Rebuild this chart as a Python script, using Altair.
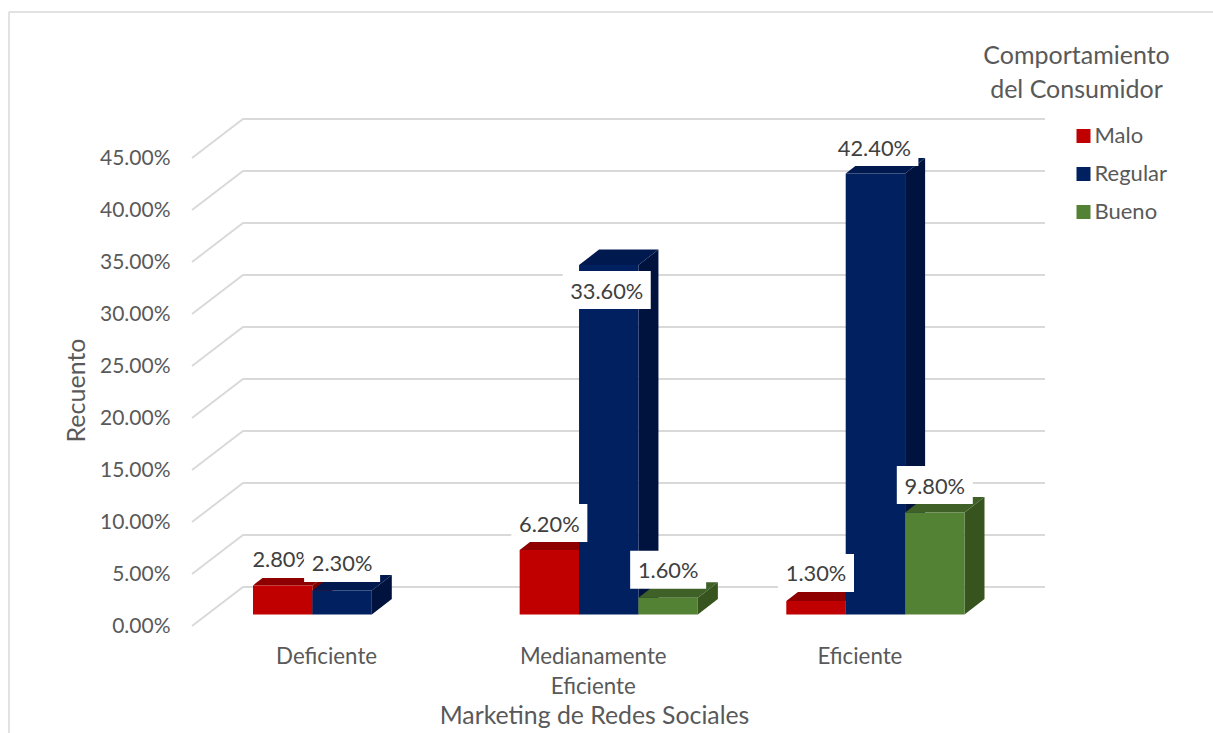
import json
import altair as alt
import pandas as pd

# Chart values
categories = ["Deficiente", "Medianamente Eficiente", "Eficiente"]
series_names = ["Malo", "Regular", "Bueno"]
malo = [0.028, 0.062, 0.013]
regular = [0.023, 0.336, 0.424]
bueno = [None, 0.016, 0.098]
tick_values = [0, 0.05, 0.10, 0.15, 0.20, 0.25, 0.30, 0.35, 0.40, 0.45]

# Canvas and scale set-up: x runs in category units, y in shares
W, H = 1213, 733
PX_X = 266.65          # pixels per category step
PX_Y = 1040.0          # pixels per 1.00 of share
X0_PX = 342.1          # centre of the first category's front faces
Y0_PX = 614.5          # floor line of the front faces
x_dom = [-X0_PX / PX_X, (W - X0_PX) / PX_X]
y_dom = [-(H - Y0_PX) / PX_Y, Y0_PX / PX_Y]

BAR_W = 59.4 / PX_X
DEPTH_X = 20.0 / PX_X
DEPTH_Y = 15.5 / PX_Y

front_colors = ["#C00000", "#002060", "#548235"]
top_colors = ["#8E0000", "#001A50", "#3F6128"]
side_colors = ["#7A0000", "#00133E", "#37541F"]

# Label box sizes and their placement relative to each bar's top edge (pixels)
BOX_H = 38
TEXT_DROP = 1.5
label_boxes = {
    ("Malo", 0): (76, 0, -26.4),
    ("Malo", 1): (76, 0, -27),
    ("Malo", 2): (76, 0, -28),
    ("Regular", 0): (76, 0, -27.6),
    ("Regular", 1): (88, -2, 25),
    ("Regular", 2): (88, -1, -26.5),
    ("Bueno", 1): (76, 0, -28),
    ("Bueno", 2): (76, 0, -27.5),
}

x_scale = alt.Scale(domain=x_dom, range=[0, W], nice=False, zero=False)
y_scale = alt.Scale(domain=y_dom, range=[H, 0], nice=False, zero=False)
color_scale = alt.Scale(domain=series_names, range=front_colors)

# Wall gridlines: a short slanted run from the front edge, then along the back wall
WALL_LEFT = (243 - X0_PX) / PX_X
WALL_RIGHT = (1045 - X0_PX) / PX_X
FRONT_LEFT = (192 - X0_PX) / PX_X
WALL_RISE = 27.5 / PX_Y
FRONT_DROP = -11.5 / PX_Y
grid_rows = []
for t in tick_values:
    grid_rows += [
        {"tick": t, "x": FRONT_LEFT, "y": t + FRONT_DROP},
        {"tick": t, "x": WALL_LEFT, "y": t + WALL_RISE},
        {"tick": t, "x": WALL_RIGHT, "y": t + WALL_RISE},
    ]

x_label_expr = (
    "datum.value == 1 ? "
    + json.dumps(categories[1].split(" "))
    + " : (datum.value == 0 ? "
    + json.dumps(categories[0])
    + " : "
    + json.dumps(categories[2])
    + ")"
)
x_axis = alt.Axis(
    values=[0, 1, 2], labelExpr=x_label_expr, labelOffset=-16, offset=-88,
    domain=False, ticks=False, grid=False, labelPadding=0, labelFontSize=22.3,
    labelColor="#595959", labelFont="Lato", labelLineHeight=30.5, labelOverlap=False,
    labelFlush=False, labelBaseline="top", title="Marketing de Redes Sociales",
    titleFont="Lato", titleFontSize=24.8, titleColor="#595959", titleFontWeight="normal",
    titleX=594, titleY=71, titleAnchor="middle", titleBaseline="middle",
)
y_axis = alt.Axis(
    values=tick_values, format=".2%", offset=-170, domain=False, ticks=False,
    grid=False, labelPadding=0, labelOffset=12, labelFontSize=21, labelColor="#595959",
    labelFont="Lato", labelOverlap=False, labelFlush=False, title="Recuento",
    titleFont="Lato", titleFontSize=25, titleColor="#595959", titleFontWeight="normal",
    titleX=-94, titleY=390, titleAngle=270, titleAlign="center", titleBaseline="middle",
)


def X(field="x"):
    return alt.X(f"{field}:Q", scale=x_scale, axis=x_axis, title="Marketing de Redes Sociales")


def Y(field="y"):
    return alt.Y(f"{field}:Q", scale=y_scale, axis=y_axis, stack=None, title="Recuento")


layers = [
    alt.Chart(pd.DataFrame(grid_rows))
    .mark_line(color="#D9D9D9", strokeWidth=1.9)
    .encode(x=X(), y=Y(), detail="tick:N", order="x:Q")
]

legend = alt.Legend(
    orient="none", legendX=983.5, legendY=44,
    title=["Comportamiento", "del Consumidor"],
    titleFont="Lato", titleFontSize=25, titleColor="#595959", titleFontWeight="normal",
    titleAlign="center", titleLineHeight=34, titlePadding=22, titleLimit=400,
    labelFont="Lato", labelFontSize=22, labelColor="#595959", labelOffset=0,
    symbolType="square", symbolSize=196, symbolStrokeWidth=0, symbolOffset=-4,
    rowPadding=16, padding=0,
)

all_values = [malo, regular, bueno]
for s, name in enumerate(series_names):
    fronts, tops, sides = [], [], []
    offset = (s - 1) * BAR_W
    for c, v in enumerate(all_values[s]):
        if v is None:
            continue
        x0 = c + offset - BAR_W / 2
        x1 = x0 + BAR_W
        fronts.append({"series": name, "cat": c, "x": x0, "x2": x1, "y": v, "y2": 0})
        tops += [
            {"cat": c, "x": x0, "y": v, "y2": v},
            {"cat": c, "x": x0 + DEPTH_X, "y": v + DEPTH_Y, "y2": v},
            {"cat": c, "x": x1, "y": v + DEPTH_Y, "y2": v},
            {"cat": c, "x": x1 + DEPTH_X, "y": v + DEPTH_Y, "y2": v + DEPTH_Y},
        ]
        sides += [
            {"cat": c, "x": x1, "y": v, "y2": 0},
            {"cat": c, "x": x1 + DEPTH_X, "y": v + DEPTH_Y, "y2": DEPTH_Y},
        ]
    layers.append(
        alt.Chart(pd.DataFrame(sides))
        .mark_area(color=side_colors[s], orient="vertical")
        .encode(x=X(), y=Y(), y2="y2:Q", detail="cat:N")
    )
    layers.append(
        alt.Chart(pd.DataFrame(tops))
        .mark_area(color=top_colors[s], orient="vertical")
        .encode(x=X(), y=Y(), y2="y2:Q", detail="cat:N")
    )
    layers.append(
        alt.Chart(pd.DataFrame(fronts))
        .mark_rect()
        .encode(
            x=X(), x2="x2:Q", y=Y(), y2="y2:Q",
            color=alt.Color("series:N", scale=color_scale, legend=legend),
        )
    )

# Value labels sit above the bars, each on its own white box
for s, name in enumerate(series_names):
    rows = []
    offset = (s - 1) * BAR_W
    for c, v in enumerate(all_values[s]):
        if v is None:
            continue
        bw, dx, dy = label_boxes[(name, c)]
        cx = c + offset + dx / PX_X
        cy = v - dy / PX_Y
        rows.append({
            "value": v, "cx": cx, "cy": cy - TEXT_DROP / PX_Y,
            "x": cx - bw / 2 / PX_X, "x2": cx + bw / 2 / PX_X,
            "y": cy + BOX_H / 2 / PX_Y, "y2": cy - BOX_H / 2 / PX_Y,
        })
    frame = pd.DataFrame(rows)
    layers.append(
        alt.Chart(frame).mark_rect(color="white")
        .encode(x=X(), x2="x2:Q", y=Y(), y2="y2:Q")
    )
    layers.append(
        alt.Chart(frame)
        .mark_text(font="Lato", fontSize=21.8, color="#404040", baseline="middle", align="center")
        .encode(x=X("cx"), y=Y("cy"), text=alt.Text("value:Q", format=".2%"))
    )

# Chart frame along the top and left edges
layers.append(
    alt.Chart(pd.DataFrame({"k": [0]})).mark_rule(color="#D9D9D9", strokeWidth=1.5)
    .encode(x=alt.value(9), y=alt.value(12), y2=alt.value(H))
)
layers.append(
    alt.Chart(pd.DataFrame({"k": [0]})).mark_rule(color="#D9D9D9", strokeWidth=1.5)
    .encode(x=alt.value(9), x2=alt.value(W), y=alt.value(12))
)

chart = (
    alt.layer(*layers)
    .properties(width=W, height=H, padding=0, autosize=alt.AutoSizeParams(type="none"),
                background="white")
    .configure_view(stroke=None)
)

chart.save("out.html", embed_options={"renderer": "svg", "actions": False})
